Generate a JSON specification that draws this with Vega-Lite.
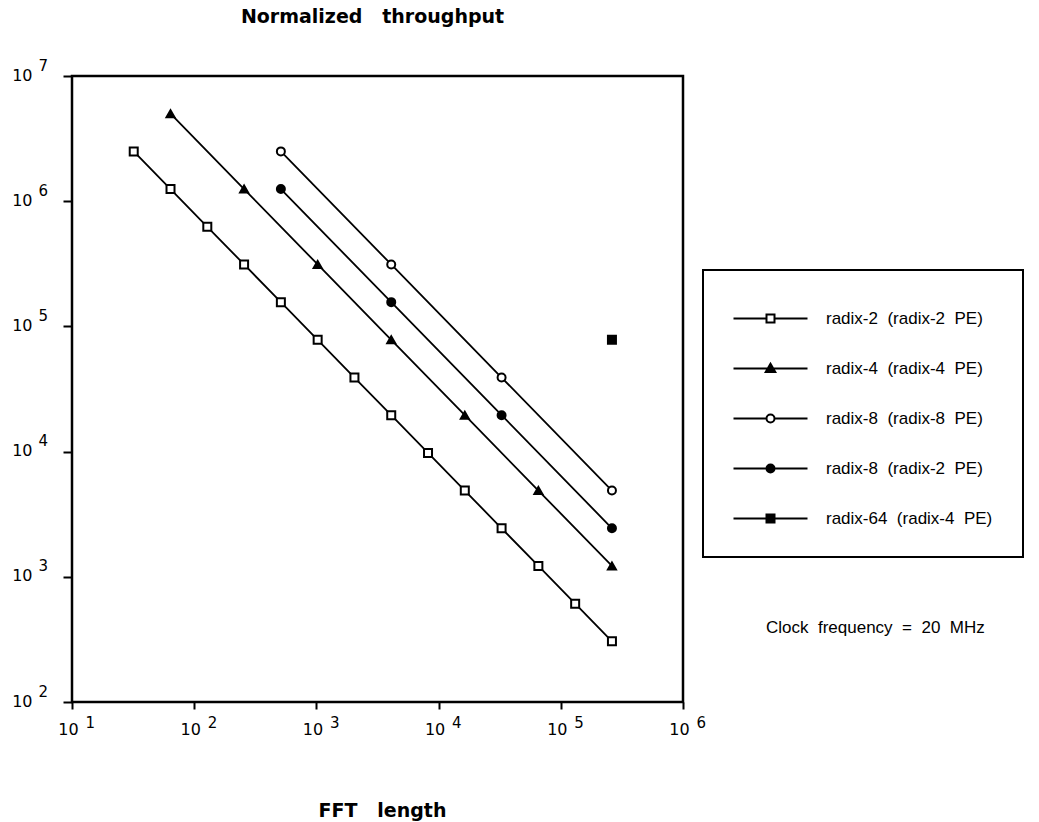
{
  "$schema": "https://vega.github.io/schema/vega-lite/v6.json",
  "width": 611,
  "height": 626,
  "autosize": "none",
  "padding": {"left": 72, "top": 76, "right": 356, "bottom": 120},
  "background": "white",
  "config": {
    "font": "Liberation Sans",
    "view": {"stroke": "black", "strokeWidth": 2.5},
    "axis": {"grid": false, "domain": false, "tickColor": "black", "labelColor": "black", "titleColor": "black", "labelFlush": false, "labelOverlap": false}
  },
  "title": {
    "text": "Clock\u00a0\u00a0frequency\u00a0\u00a0=\u00a0\u00a020\u00a0\u00a0MHz",
    "orient": "bottom",
    "anchor": "start",
    "frame": "group",
    "offset": 0,
    "baseline": "alphabetic",
    "dx": 694,
    "dy": -187,
    "fontSize": 17,
    "fontWeight": "normal",
    "font": "Liberation Sans",
    "color": "black"
  },
  "data": {
    "values": [
      {"N": 32, "T": 2500000, "s": "radix-2\u00a0\u00a0(radix-2\u00a0\u00a0PE)"},
      {"N": 64, "T": 1250000, "s": "radix-2\u00a0\u00a0(radix-2\u00a0\u00a0PE)"},
      {"N": 128, "T": 625000, "s": "radix-2\u00a0\u00a0(radix-2\u00a0\u00a0PE)"},
      {"N": 256, "T": 312500, "s": "radix-2\u00a0\u00a0(radix-2\u00a0\u00a0PE)"},
      {"N": 512, "T": 156250, "s": "radix-2\u00a0\u00a0(radix-2\u00a0\u00a0PE)"},
      {"N": 1024, "T": 78125, "s": "radix-2\u00a0\u00a0(radix-2\u00a0\u00a0PE)"},
      {"N": 2048, "T": 39062, "s": "radix-2\u00a0\u00a0(radix-2\u00a0\u00a0PE)"},
      {"N": 4096, "T": 19531, "s": "radix-2\u00a0\u00a0(radix-2\u00a0\u00a0PE)"},
      {"N": 8192, "T": 9766, "s": "radix-2\u00a0\u00a0(radix-2\u00a0\u00a0PE)"},
      {"N": 16384, "T": 4883, "s": "radix-2\u00a0\u00a0(radix-2\u00a0\u00a0PE)"},
      {"N": 32768, "T": 2441, "s": "radix-2\u00a0\u00a0(radix-2\u00a0\u00a0PE)"},
      {"N": 65536, "T": 1221, "s": "radix-2\u00a0\u00a0(radix-2\u00a0\u00a0PE)"},
      {"N": 131072, "T": 610, "s": "radix-2\u00a0\u00a0(radix-2\u00a0\u00a0PE)"},
      {"N": 262144, "T": 305, "s": "radix-2\u00a0\u00a0(radix-2\u00a0\u00a0PE)"},
      {"N": 64, "T": 5000000, "s": "radix-4\u00a0\u00a0(radix-4\u00a0\u00a0PE)"},
      {"N": 256, "T": 1250000, "s": "radix-4\u00a0\u00a0(radix-4\u00a0\u00a0PE)"},
      {"N": 1024, "T": 312500, "s": "radix-4\u00a0\u00a0(radix-4\u00a0\u00a0PE)"},
      {"N": 4096, "T": 78125, "s": "radix-4\u00a0\u00a0(radix-4\u00a0\u00a0PE)"},
      {"N": 16384, "T": 19531, "s": "radix-4\u00a0\u00a0(radix-4\u00a0\u00a0PE)"},
      {"N": 65536, "T": 4883, "s": "radix-4\u00a0\u00a0(radix-4\u00a0\u00a0PE)"},
      {"N": 262144, "T": 1221, "s": "radix-4\u00a0\u00a0(radix-4\u00a0\u00a0PE)"},
      {"N": 512, "T": 2500000, "s": "radix-8\u00a0\u00a0(radix-8\u00a0\u00a0PE)"},
      {"N": 4096, "T": 312500, "s": "radix-8\u00a0\u00a0(radix-8\u00a0\u00a0PE)"},
      {"N": 32768, "T": 39062, "s": "radix-8\u00a0\u00a0(radix-8\u00a0\u00a0PE)"},
      {"N": 262144, "T": 4883, "s": "radix-8\u00a0\u00a0(radix-8\u00a0\u00a0PE)"},
      {"N": 512, "T": 1250000, "s": "radix-8\u00a0\u00a0(radix-2\u00a0\u00a0PE)"},
      {"N": 4096, "T": 156250, "s": "radix-8\u00a0\u00a0(radix-2\u00a0\u00a0PE)"},
      {"N": 32768, "T": 19531, "s": "radix-8\u00a0\u00a0(radix-2\u00a0\u00a0PE)"},
      {"N": 262144, "T": 2441, "s": "radix-8\u00a0\u00a0(radix-2\u00a0\u00a0PE)"},
      {"N": 262144, "T": 78125, "s": "radix-64\u00a0\u00a0(radix-4\u00a0\u00a0PE)"}
    ]
  },
  "resolve": {"axis": {"x": "independent", "y": "independent"}},
  "layer": [
    {
      "mark": {"type": "line", "color": "black", "strokeWidth": 1.8},
      "encoding": {
        "x": {
          "field": "N", "type": "quantitative",
          "scale": {"type": "log", "domain": [10, 1000000], "nice": false},
          "axis": {
            "orient": "bottom",
            "values": [10, 100, 1000, 10000, 100000, 1000000],
            "labelExpr": "'10'",
            "labelFont": "DejaVu Sans", "labelFontSize": 16,
            "labelOffset": -4, "labelPadding": 12, "labelBaseline": "top", "labelAlign": "center",
            "tickSize": 7, "tickWidth": 2,
            "title": "FFT\u00a0\u00a0\u00a0length",
            "titleFont": "DejaVu Sans", "titleFontSize": 19, "titleFontWeight": "bold",
            "titleAnchor": "start", "titleAlign": "center", "titleBaseline": "alphabetic",
            "titleX": 310, "titleY": 114, "titleAngle": 0
          }
        },
        "y": {
          "field": "T", "type": "quantitative",
          "scale": {"type": "log", "domain": [100, 10000000], "nice": false},
          "axis": {
            "orient": "left",
            "values": [100, 1000, 10000, 100000, 1000000, 10000000],
            "labelExpr": "'10'",
            "labelFont": "DejaVu Sans", "labelFontSize": 16,
            "labelOffset": -1, "labelPadding": 31, "labelBaseline": "middle", "labelAlign": "right",
            "tickSize": 9, "tickWidth": 2,
            "title": "Normalized\u00a0\u00a0\u00a0throughput",
            "titleFont": "DejaVu Sans", "titleFontSize": 19, "titleFontWeight": "bold",
            "titleAngle": 0, "titleAlign": "center", "titleBaseline": "alphabetic",
            "titleAnchor": "start",
            "titleX": 300, "titleY": -54
          }
        },
        "detail": {"field": "s", "type": "nominal"}
      }
    },
    {
      "mark": {"type": "point", "size": 64, "strokeWidth": 2, "opacity": 1},
      "encoding": {
        "x": {
          "field": "N", "type": "quantitative",
          "axis": {
            "orient": "bottom",
            "values": [10, 100, 1000, 10000, 100000, 1000000],
            "labelExpr": "'' + round(log(datum.value) / LN10)",
            "labelFont": "DejaVu Sans", "labelFontSize": 15,
            "labelOffset": 13, "labelPadding": 13, "labelAlign": "left", "labelBaseline": "top",
            "ticks": false, "tickSize": 0, "title": null
          }
        },
        "y": {
          "field": "T", "type": "quantitative",
          "axis": {
            "orient": "left",
            "values": [100, 1000, 10000, 100000, 1000000, 10000000],
            "labelExpr": "'' + round(log(datum.value) / LN10)",
            "labelFont": "DejaVu Sans", "labelFontSize": 15,
            "labelOffset": -11, "labelPadding": 34, "labelAlign": "left", "labelBaseline": "middle",
            "ticks": false, "tickSize": 0, "title": null
          }
        },
        "shape": {
          "field": "s", "type": "nominal",
          "scale": {
            "domain": ["radix-2\u00a0\u00a0(radix-2\u00a0\u00a0PE)", "radix-4\u00a0\u00a0(radix-4\u00a0\u00a0PE)", "radix-8\u00a0\u00a0(radix-8\u00a0\u00a0PE)", "radix-8\u00a0\u00a0(radix-2\u00a0\u00a0PE)", "radix-64\u00a0\u00a0(radix-4\u00a0\u00a0PE)"],
            "range": ["square", "triangle-up", "circle", "circle", "square"]
          },
          "legend": null
        },
        "fill": {
          "field": "s", "type": "nominal",
          "scale": {
            "domain": ["radix-2\u00a0\u00a0(radix-2\u00a0\u00a0PE)", "radix-4\u00a0\u00a0(radix-4\u00a0\u00a0PE)", "radix-8\u00a0\u00a0(radix-8\u00a0\u00a0PE)", "radix-8\u00a0\u00a0(radix-2\u00a0\u00a0PE)", "radix-64\u00a0\u00a0(radix-4\u00a0\u00a0PE)"],
            "range": ["white", "black", "white", "black", "black"]
          },
          "legend": null
        },
        "stroke": {
          "field": "s", "type": "nominal",
          "sort": null,
          "scale": {
            "range": ["black", "black", "black", "black", "black"]
          },
          "legend": {
            "orient": "none",
            "legendX": 631,
            "legendY": 194,
            "title": " ",
            "titleFontSize": 6,
            "titlePadding": 4,
            "padding": 30,
            "rowPadding": 32,
            "strokeColor": "black",
            "fillColor": "white",
            "labelFont": "Liberation Sans",
            "labelFontSize": 17,
            "labelColor": "black",
            "labelLimit": 400,
            "symbolOffset": 29,
            "labelOffset": 47,
            "encoding": {
              "legend": {"strokeWidth": {"value": 2}},
              "symbols": {
                "shape": {"value": {"expr": "['M-9.25,0H-1M1,0H9.25M-1,-1H1V1H-1Z', 'M-9.25,0H9.25M0,-1.2L1.2,0.9H-1.2Z', 'M-9.25,0H-1M1,0H9.25M-1,0A1,1 0 1,0 1,0A1,1 0 1,0 -1,0Z', 'M-9.25,0H9.25M-1,0A1,1 0 1,0 1,0A1,1 0 1,0 -1,0Z', 'M-9.25,0H9.25M-1,-1H1V1H-1Z'][datum.index]"}},
                "fill": {"value": {"expr": "['white','black','white','black','black'][datum.index]"}},
                "strokeWidth": {"value": 2},
                "size": {"value": 64},
                "opacity": {"value": 1}
              }
            }
          }
        }
      }
    }
  ]
}
